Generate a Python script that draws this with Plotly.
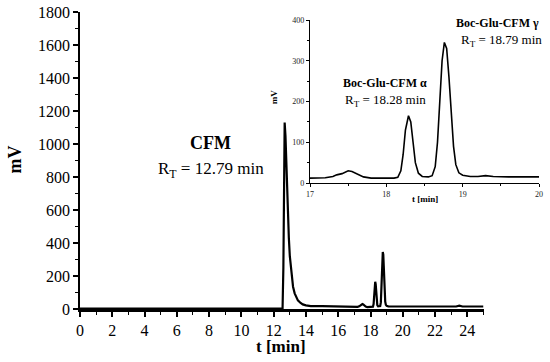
import plotly.graph_objects as go

# chromatogram (time in min, signal in mV)
t_min = [0, 12.55, 12.6, 12.65, 12.68, 12.73, 12.78, 12.83, 12.88, 12.94, 13.0, 13.1, 13.2, 13.3, 13.4,
         13.5, 13.65, 13.8, 14.0, 14.3, 15.0, 16.0, 17.0, 17.2, 17.3, 17.35, 17.42, 17.5, 17.55, 17.62,
         17.7, 17.8, 18.1, 18.15, 18.19, 18.22, 18.25, 18.29, 18.32, 18.35, 18.38, 18.42, 18.47, 18.55,
         18.6, 18.64, 18.67, 18.7, 18.73, 18.76, 18.79, 18.82, 18.85, 18.88, 18.91, 18.95, 19.0, 19.1,
         19.2, 19.3, 19.4, 19.6, 20.0, 21.0, 22.0, 23.3, 23.5, 23.7, 25.0]
signal_mv = [2, 2, 250, 850, 1130, 1050, 880, 720, 570, 430, 320, 200, 135, 95, 70,
             52, 38, 28, 22, 18, 18, 16, 12, 13, 16, 20, 23, 30, 28, 21,
             15, 12, 12, 14, 30, 70, 130, 165, 150, 100, 50, 24, 16, 15,
             18, 40, 100, 200, 300, 345, 330, 260, 170, 90, 45, 25, 19, 16,
             16, 18, 16, 15, 15, 16, 15, 15, 20, 15, 15]

inset_range = [17, 20]
inset_t = [t for t in t_min if inset_range[0] <= t <= inset_range[1]]
inset_mv = [v for t, v in zip(t_min, signal_mv) if inset_range[0] <= t <= inset_range[1]]

main_xticks = list(range(0, 25, 2))
main_yticks = list(range(0, 1801, 200))
inset_xticks = [17, 18, 19, 20]
inset_yticks = [0, 100, 200, 300, 400]

W, H = 550, 362
L, R, T, B = 80, 4, 12, 53
pw, ph = W - L - R, H - T - B


def px(x):
    return (x - L) / pw


def py(y):
    return (H - B - y) / ph


SERIF = "Liberation Serif, Times New Roman, serif"

fig = go.Figure()
fig.add_trace(go.Scatter(x=t_min, y=signal_mv, mode="lines",
                         line=dict(color="black", width=2.2), xaxis="x", yaxis="y",
                         showlegend=False))
fig.add_trace(go.Scatter(x=inset_t, y=inset_mv, mode="lines",
                         line=dict(color="black", width=1.6), xaxis="x2", yaxis="y2",
                         showlegend=False))

main_tick_font = dict(family=SERIF, size=16, color="black")
inset_tick_font = dict(family=SERIF, size=8, color="#222")

fig.update_layout(
    width=W, height=H,
    font=dict(family=SERIF, color="black"),
    margin=dict(l=L, r=R, t=T, b=B),
    paper_bgcolor="white", plot_bgcolor="white",
    xaxis=dict(domain=[0, px(487)], range=[0, 25], tickvals=main_xticks,
               ticks="outside", ticklen=5, tickwidth=1.5, tickcolor="black",
               minor=dict(dtick=1, ticks="outside", ticklen=3, tickwidth=1.2, tickcolor="black"),
               showline=True, linecolor="black", linewidth=2.5, showgrid=False, zeroline=False,
               tickfont=main_tick_font, anchor="y", ticklabeloverflow="allow"),
    yaxis=dict(domain=[0, 1], range=[0, 1800], tickvals=main_yticks,
               ticks="outside", ticklen=5, tickwidth=1.5, tickcolor="black",
               minor=dict(dtick=100, ticks="outside", ticklen=3, tickwidth=1.2, tickcolor="black"),
               showline=True, linecolor="black", linewidth=1.5, showgrid=False, zeroline=False,
               tickfont=main_tick_font, anchor="x", ticklabeloverflow="allow"),
    xaxis2=dict(domain=[px(312), px(543)], range=inset_range, tickvals=inset_xticks,
                ticks="outside", ticklen=3, tickwidth=1, tickcolor="black",
                minor=dict(dtick=0.5, ticks="outside", ticklen=2, tickwidth=1, tickcolor="black"),
                showline=True, linecolor="black", linewidth=1.2, showgrid=False, zeroline=False,
                tickfont=inset_tick_font, anchor="y2", ticklabeloverflow="allow"),
    yaxis2=dict(domain=[py(183), py(20)], range=[0, 400], tickvals=inset_yticks,
                ticks="outside", ticklen=3, tickwidth=1, tickcolor="black",
                minor=dict(dtick=50, ticks="outside", ticklen=2, tickwidth=1, tickcolor="black"),
                showline=True, linecolor="black", linewidth=1.2, showgrid=False, zeroline=False,
                tickfont=inset_tick_font, anchor="x2", ticklabeloverflow="allow"),
)

ann = [
    dict(x=px(283), y=py(346), text="<b>t [min]</b>", size=17),
    dict(x=px(14), y=py(160), text="<b>mV</b>", size=18, angle=-90),
    dict(x=px(212), y=py(143), text="<b>CFM</b>", size=18),
    dict(x=px(212), y=py(170), text="R<sub>T</sub> = 12.79 min", size=17),
    dict(x=px(428), y=py(199), text="<b>t [min]</b>", size=9),
    dict(x=px(276), y=py(97), text="<b>mV</b>", size=9, angle=-90),
    dict(x=px(388), y=py(83), text="<b>Boc-Glu-CFM α</b>", size=12),
    dict(x=px(388), y=py(100), text="R<sub>T</sub> = 18.28 min", size=13),
    dict(x=px(501), y=py(23), text="<b>Boc-Glu-CFM γ</b>", size=12),
    dict(x=px(505), y=py(40), text="R<sub>T</sub> = 18.79 min", size=13),
]
for a in ann:
    fig.add_annotation(x=a["x"], y=a["y"], xref="paper", yref="paper", text=a["text"],
                       showarrow=False, xanchor="center", yanchor="middle",
                       textangle=a.get("angle", 0),
                       font=dict(family=SERIF, size=a["size"], color="black"))

fig.write_html("out.html", config={"displayModeBar": False},
               post_script="document.body.style.margin='0';document.body.style.padding='0';")
